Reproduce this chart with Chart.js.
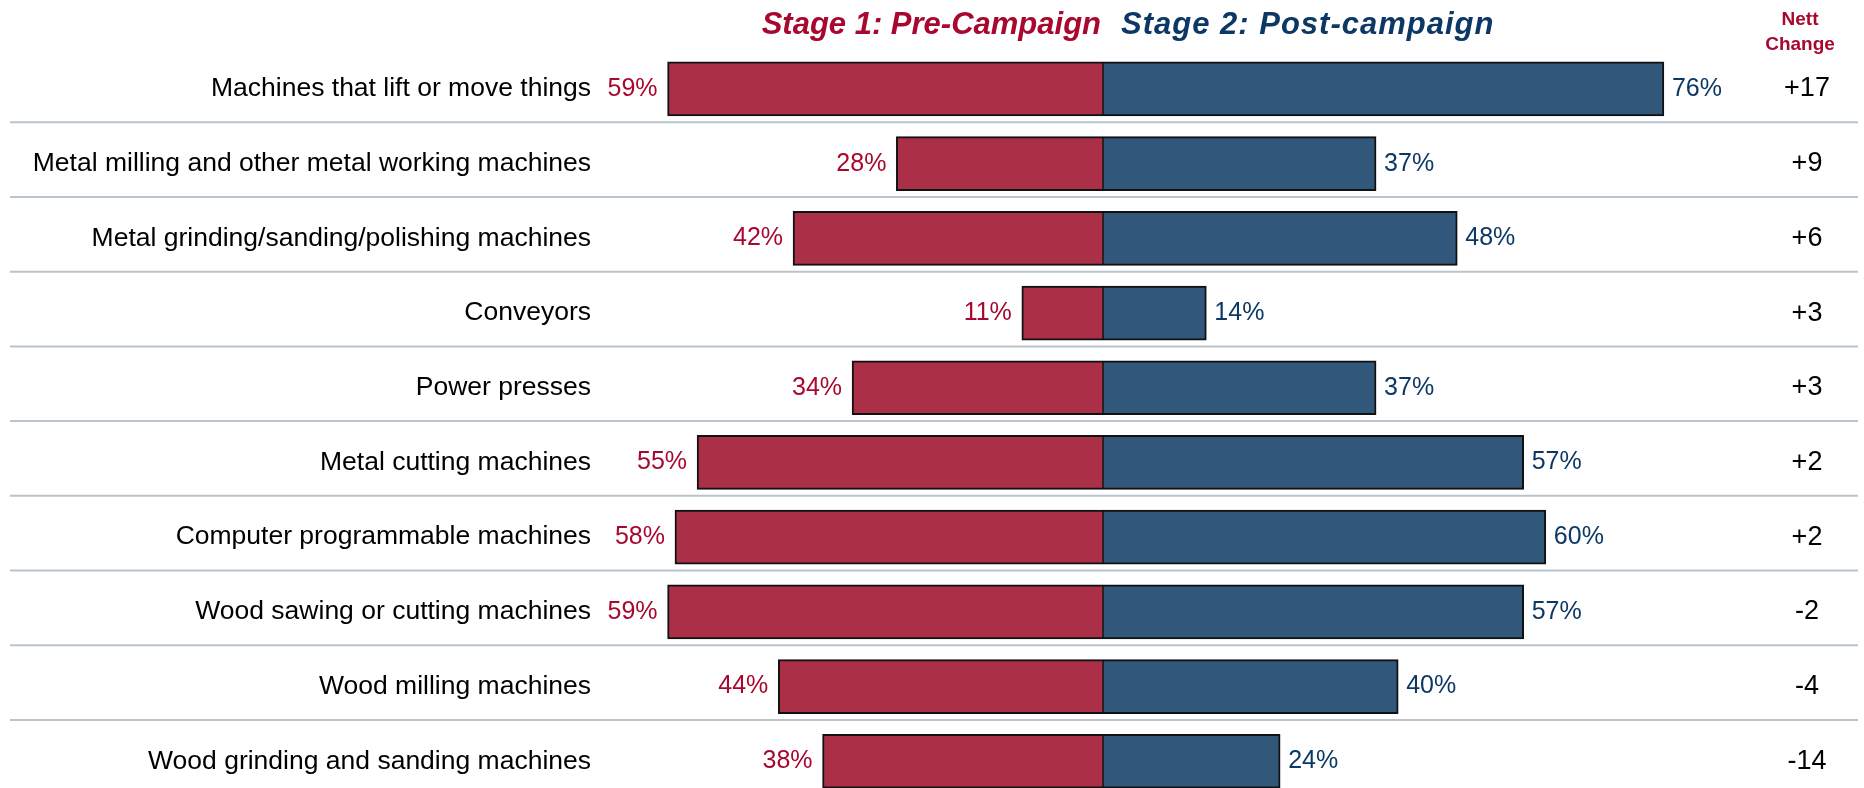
<!DOCTYPE html>
<html>
<head>
<meta charset="utf-8">
<script src="https://cdn.jsdelivr.net/npm/chart.js@4/dist/chart.umd.min.js"></script>
<style>
  html, body { margin: 0; padding: 0; background: #fff; overflow: hidden; }
  canvas { display: block; }
</style>
</head>
<body>
<canvas id="machineChart" width="1864" height="800"></canvas>
<script>
const categories = [
    "Machines that lift or move things",
    "Metal milling and other metal working machines",
    "Metal grinding/sanding/polishing machines",
    "Conveyors",
    "Power presses",
    "Metal cutting machines",
    "Computer programmable machines",
    "Wood sawing or cutting machines",
    "Wood milling machines",
    "Wood grinding and sanding machines"
]
const preCampaign = [59, 28, 42, 11, 34, 55, 58, 59, 44, 38]
const postCampaign = [76, 37, 48, 14, 37, 57, 60, 57, 40, 24]

const stageLabels = ["Stage 1: Pre-Campaign", "Stage 2: Post-campaign"]
const nettHeader = ["Nett", "Change"]

const RED = "#A8082E"
const BLUE = "#0C3866"
const FONT = '"Liberation Sans", Arial, sans-serif'

// percentages, category names, nett change and header text
const textPlugin = {
    id: "textPlugin",
    afterDatasetsDraw(chart) {
        const ctx = chart.ctx
        const preBars = chart.getDatasetMeta(0).data
        const postBars = chart.getDatasetMeta(1).data
        const zeroX = chart.scales.x.getPixelForValue(0)

        ctx.save()

        // row separators
        ctx.strokeStyle = "#B9C4CC"
        ctx.lineWidth = 2
        for (let i = 0; i < preBars.length - 1; i++) {
            const y = (preBars[i].y + preBars[i + 1].y) / 2 - 4
            ctx.beginPath()
            ctx.moveTo(chart.chartArea.left, y)
            ctx.lineTo(chart.chartArea.right, y)
            ctx.stroke()
        }

        ctx.textBaseline = "middle"
        preBars.forEach((bar, i) => {
            const y = bar.y

            ctx.font = "26.5px " + FONT
            ctx.fillStyle = "#000"
            ctx.textAlign = "right"
            ctx.fillText(categories[i], 591, y)

            ctx.font = "25px " + FONT
            ctx.fillStyle = RED
            ctx.fillText(preCampaign[i] + "%", bar.x - 10, y)

            ctx.fillStyle = BLUE
            ctx.textAlign = "left"
            ctx.fillText(postCampaign[i] + "%", postBars[i].x + 8, y)

            const nett = postCampaign[i] - preCampaign[i]
            ctx.font = "27px " + FONT
            ctx.fillStyle = "#000"
            ctx.textAlign = "center"
            ctx.fillText((nett > 0 ? "+" : "") + nett, 1807, y)
        })

        // stage titles either side of the centre line
        ctx.textBaseline = "alphabetic"
        ctx.font = "italic bold 31px " + FONT
        ctx.fillStyle = RED
        ctx.textAlign = "right"
        ctx.fillText(stageLabels[0], zeroX - 2, 34)
        ctx.fillStyle = BLUE
        ctx.textAlign = "left"
        ctx.letterSpacing = "1px"
        ctx.fillText(stageLabels[1], zeroX + 18, 34)
        ctx.letterSpacing = "0px"

        ctx.font = "bold 19px " + FONT
        ctx.fillStyle = RED
        ctx.textAlign = "center"
        ctx.fillText(nettHeader[0], 1800, 25)
        ctx.fillText(nettHeader[1], 1800, 50)

        ctx.restore()
    }
}

const ctx = document.getElementById("machineChart").getContext("2d")

new Chart(ctx, {
    type: "bar",
    data: {
        labels: categories,
        datasets: [{
            label: stageLabels[0],
            data: preCampaign.map(v => -v),
            backgroundColor: "#AB3047",
            borderColor: "#111",
            borderWidth: {left: 2, top: 2, bottom: 2, right: 1},
            borderSkipped: false,
            barThickness: 54
        }, {
            label: stageLabels[1],
            data: postCampaign,
            backgroundColor: "#31577B",
            borderColor: "#111",
            borderWidth: {left: 1, top: 2, bottom: 2, right: 2},
            borderSkipped: false,
            barThickness: 54
        }]
    },
    options: {
        indexAxis: "y",
        responsive: false,
        animation: false,
        layout: {
            padding: {left: 10, right: 6, top: 51.6, bottom: 1.4}
        },
        scales: {
            x: {
                display: false,
                stacked: true,
                min: -148.1,
                max: 102.3
            },
            y: {
                display: false,
                stacked: true,
                offset: true
            }
        },
        plugins: {
            legend: {display: false},
            tooltip: {enabled: false}
        }
    },
    plugins: [textPlugin]
})
</script>
</body>
</html>
